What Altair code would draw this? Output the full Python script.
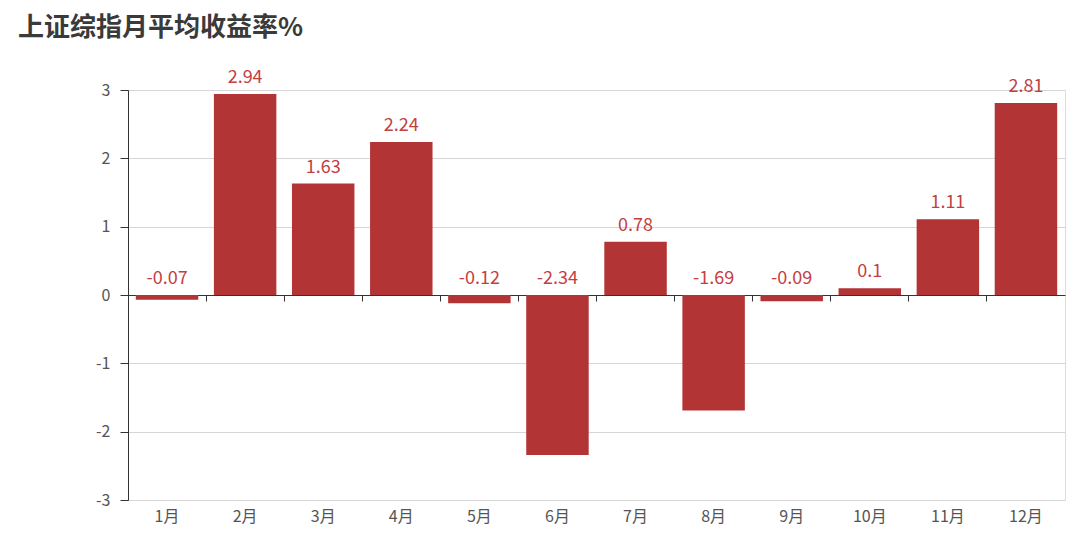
import altair as alt
import pandas as pd

months = ["1月", "2月", "3月", "4月", "5月", "6月", "7月", "8月", "9月", "10月", "11月", "12月"]
returns = [-0.07, 2.94, 1.63, 2.24, -0.12, -2.34, 0.78, -1.69, -0.09, 0.1, 1.11, 2.81]
y_ticks = [-3, -2, -1, 0, 1, 2, 3]
title_text = "上证综指月平均收益率%"

df = pd.DataFrame({"month": months, "value": returns})
df["label"] = [str(v) for v in returns]

W, H = 937, 410
FONT = "Noto Sans CJK SC"
BAR = "#b33435"
LBL = "#c4403f"

x_scale = alt.Scale(domain=months, paddingInner=0, paddingOuter=0)
y_scale = alt.Scale(domain=[-3, 3], nice=False, zero=False)

base = alt.Chart(df)

bars = base.mark_bar(color=BAR, width=alt.RelativeBandSize(0.8)).encode(
    x=alt.X("month:N", sort=months, scale=x_scale,
            axis=alt.Axis(title=None, orient="bottom", domain=False, ticks=False,
                          labelPadding=8, labelFontSize=16, labelColor="#555555",
                          labelAngle=0, labelFont=FONT, grid=False)),
    y=alt.Y("value:Q", scale=y_scale,
            axis=alt.Axis(title=None, values=y_ticks, grid=True, gridColor="#d6d6d6",
                          domainColor="#333333", tickColor="#333333", tickSize=8,
                          labelPadding=10, labelFontSize=16, labelColor="#555555",
                          labelFont=FONT, labelExpr="datum.value + ''")),
)

labels = base.transform_calculate(
    label_y="max(datum.value, 0)"
).mark_text(baseline="bottom", dy=-7, fontSize=18, color=LBL, font=FONT).encode(
    x=alt.X("month:N", sort=months, scale=x_scale,
            axis=alt.Axis(title=None, orient="bottom", offset=-H / 2, labels=False,
                          domain=True, domainColor="#333333", ticks=True,
                          tickColor="#333333", tickSize=6, bandPosition=0, grid=False)),
    y=alt.Y("label_y:Q", scale=y_scale),
    text="label:N",
)

chart = alt.layer(bars, labels).resolve_axis(x="independent").properties(
    width=W, height=H,
    autosize=alt.AutoSizeParams(type="none"),
    padding={"left": 120, "top": 82, "right": 7, "bottom": 40},
    title=alt.TitleParams(title_text, anchor="start", frame="group", dx=-110, offset=28,
                          fontSize=26, fontWeight="bold", color="#3a3a3a", font=FONT),
).configure_view(stroke=None).configure(background="white")

chart.save("out.html", embed_options={"renderer": "svg", "actions": False})
